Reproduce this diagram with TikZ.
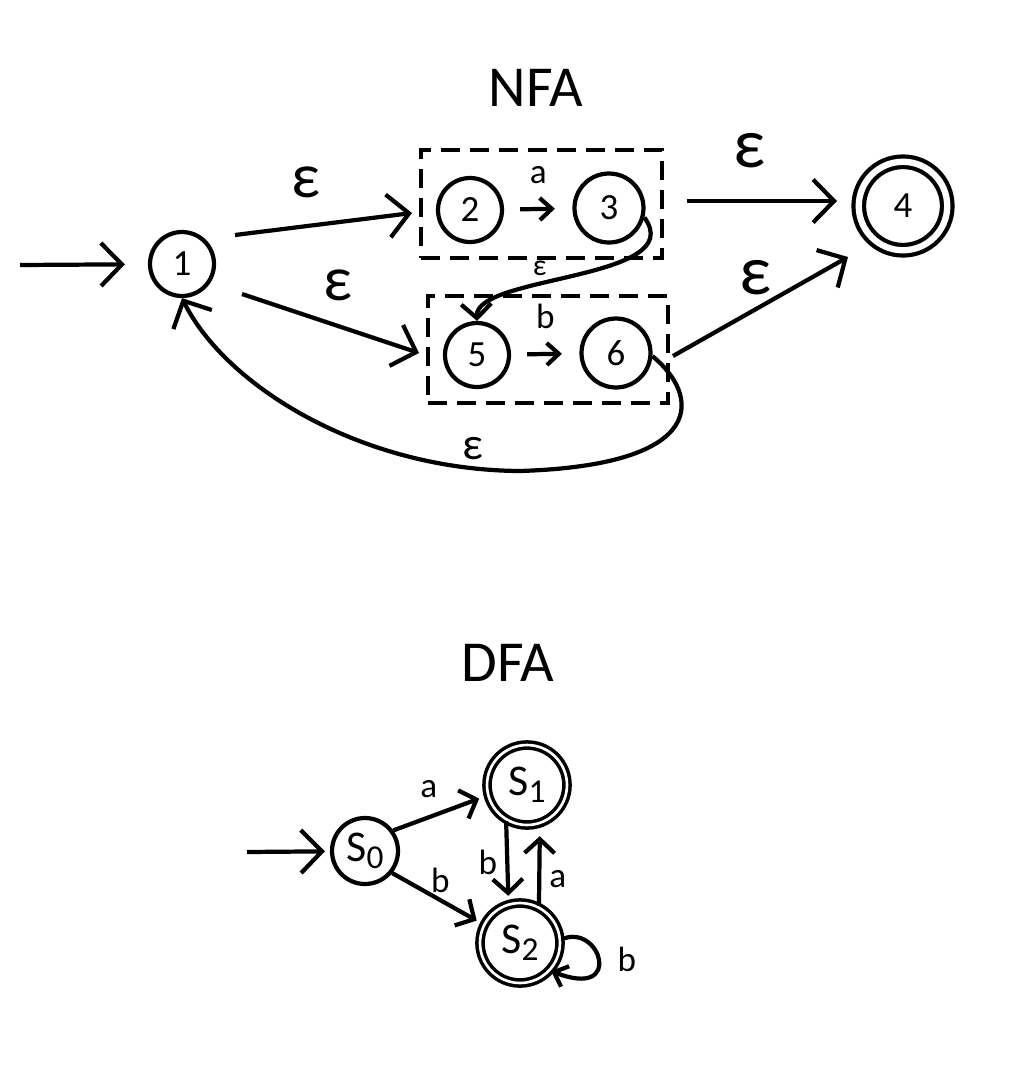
\documentclass[tikz,border=0pt]{standalone}
\usepackage{fontspec}
\setmainfont{Carlito}
\usetikzlibrary{arrows.meta,positioning}
\tikzset{state/.style={draw,circle,line width=2.4pt,minimum size=1.28cm,inner sep=0pt,font=\fontsize{21}{21}\selectfont},accept/.style={state,double,double distance=3.6pt,minimum size=1.77cm},dstate/.style={state,double,line width=2pt,double distance=1.5pt,minimum size=1.6cm,font=\fontsize{25}{25}\selectfont},group/.style={draw,line width=2.4pt,dash pattern=on 11pt off 5.5pt,minimum width=4.82cm,minimum height=2.16cm},arrow/.style={-{Straight Barb[length=0.42cm,width=0.86cm]},line width=2.4pt},midarrow/.style={-{Straight Barb[length=0.28cm,width=0.6cm]},line width=2.4pt},smallarrow/.style={-{Straight Barb[length=0.24cm,width=0.44cm]},line width=2.4pt},lbl/.style={font=\fontsize{20}{20}\selectfont,inner sep=0pt},eps/.style={font=\fontsize{36}{36}\selectfont,inner sep=0pt},title/.style={font=\fontsize{33}{33}\selectfont,inner sep=0pt}}
\newcommand{\stsub}[1]{S\raisebox{-4pt}{\fontsize{19}{19}\selectfont#1}}

\begin{document}
\begin{tikzpicture}[x=0.02cm,y=-0.02cm]
\useasboundingbox (0,0) rectangle (1022,1086);
% NFA
\node[title] (nfa) at (536,88) {NFA};
\node[state] (n1) at (182,264) {1};
\node[state] (n2) at (470,210) {2};
\node[state,minimum size=1.38cm] (n3) at (609,208) {3};
\node[accept] (n4) at (903,206) {4};
\node[state] (n5) at (477,355) {5};
\node[state,minimum size=1.38cm] (n6) at (616,353) {6};
\node[group] (box1) at (541.5,204) {};
\node[group,minimum width=4.8cm,minimum height=2.14cm] (box2) at (548,349.5) {};
\coordinate (in1) at (20,265);
\draw[arrow,shorten >=0.46cm] (in1) -- (n1);
\draw[arrow] ([shift={(53,-29)}]n1.center) -- node[eps,pos=0.4,above=0.52cm]{ε} ([shift={(-58,3)}]n2.center);
\draw[arrow] ([shift={(60,30)}]n1.center) -- node[eps,pos=0.54,above=0.46cm]{ε} ([shift={(-58,-2)}]n5.center);
\draw[smallarrow,shorten <=0.32cm,shorten >=0.35cm] (n2) -- node[lbl,above=0.47cm]{a} (n3);
\draw[smallarrow,shorten <=0.32cm,shorten >=0.35cm] (n5) -- node[lbl,above=0.47cm]{b} (n6);
\draw[arrow] ([shift={(78,-7)}]n3.center) -- node[eps,font=\fontsize{40}{40}\selectfont,pos=0.42,above=0.62cm]{ε} ([shift={(-66,-5)}]n4.center);
\draw[arrow] ([shift={(57,3)}]n6.center) -- node[eps,font=\fontsize{40}{40}\selectfont,pos=0.47,above=0.25cm]{ε} ([shift={(-55,51)}]n4.center);
\draw[midarrow] (n3.-15) .. controls (690,280) and (475,275) .. (n5.north) node[eps,font=\fontsize{17}{17}\selectfont,pos=0.63,above=0.14cm]{ε};
\draw[arrow] (n6.-5) .. controls (700,395) and (710,465) .. (520,471) .. controls (360,470) and (225,385) .. (n1.south) node[eps,font=\fontsize{26}{26}\selectfont,pos=0.1,above=0.12cm]{ε};
% DFA
\node[title] (dfa) at (508,663) {DFA};
\node[state,minimum size=1.32cm,font=\fontsize{25}{25}\selectfont] (s0) at (365,851) {\stsub{0}};
\node[dstate] (s1) at (527,785) {\stsub{1}};
\node[dstate] (s2) at (520,943) {\stsub{2}};
\coordinate (in2) at (247,852);
\draw[arrow,shorten >=0.1cm] (in2) -- (s0);
\draw[midarrow,shorten >=0.16cm] (s0.36) -- node[lbl,pos=0.38,above=0.34cm]{a} (s1.195);
\draw[midarrow,shorten >=0.14cm] (s0.-39) -- node[lbl,pos=0.53,above=0.11cm]{b} (s2.153);
\draw[midarrow,shorten >=0.14cm] (s1.-120) -- node[lbl,left=0.16cm]{b} (s2.106);
\draw[midarrow,shorten >=0.23cm] (s2.63) -- node[lbl,pos=0.33,right=0.16cm]{a} (s1.-72);
\draw[smallarrow] (s2.5) .. controls (600,922) and (625,1000) .. (s2.-42) node[lbl,pos=0.5,right=0.34cm]{b};
\end{tikzpicture}
\end{document}
